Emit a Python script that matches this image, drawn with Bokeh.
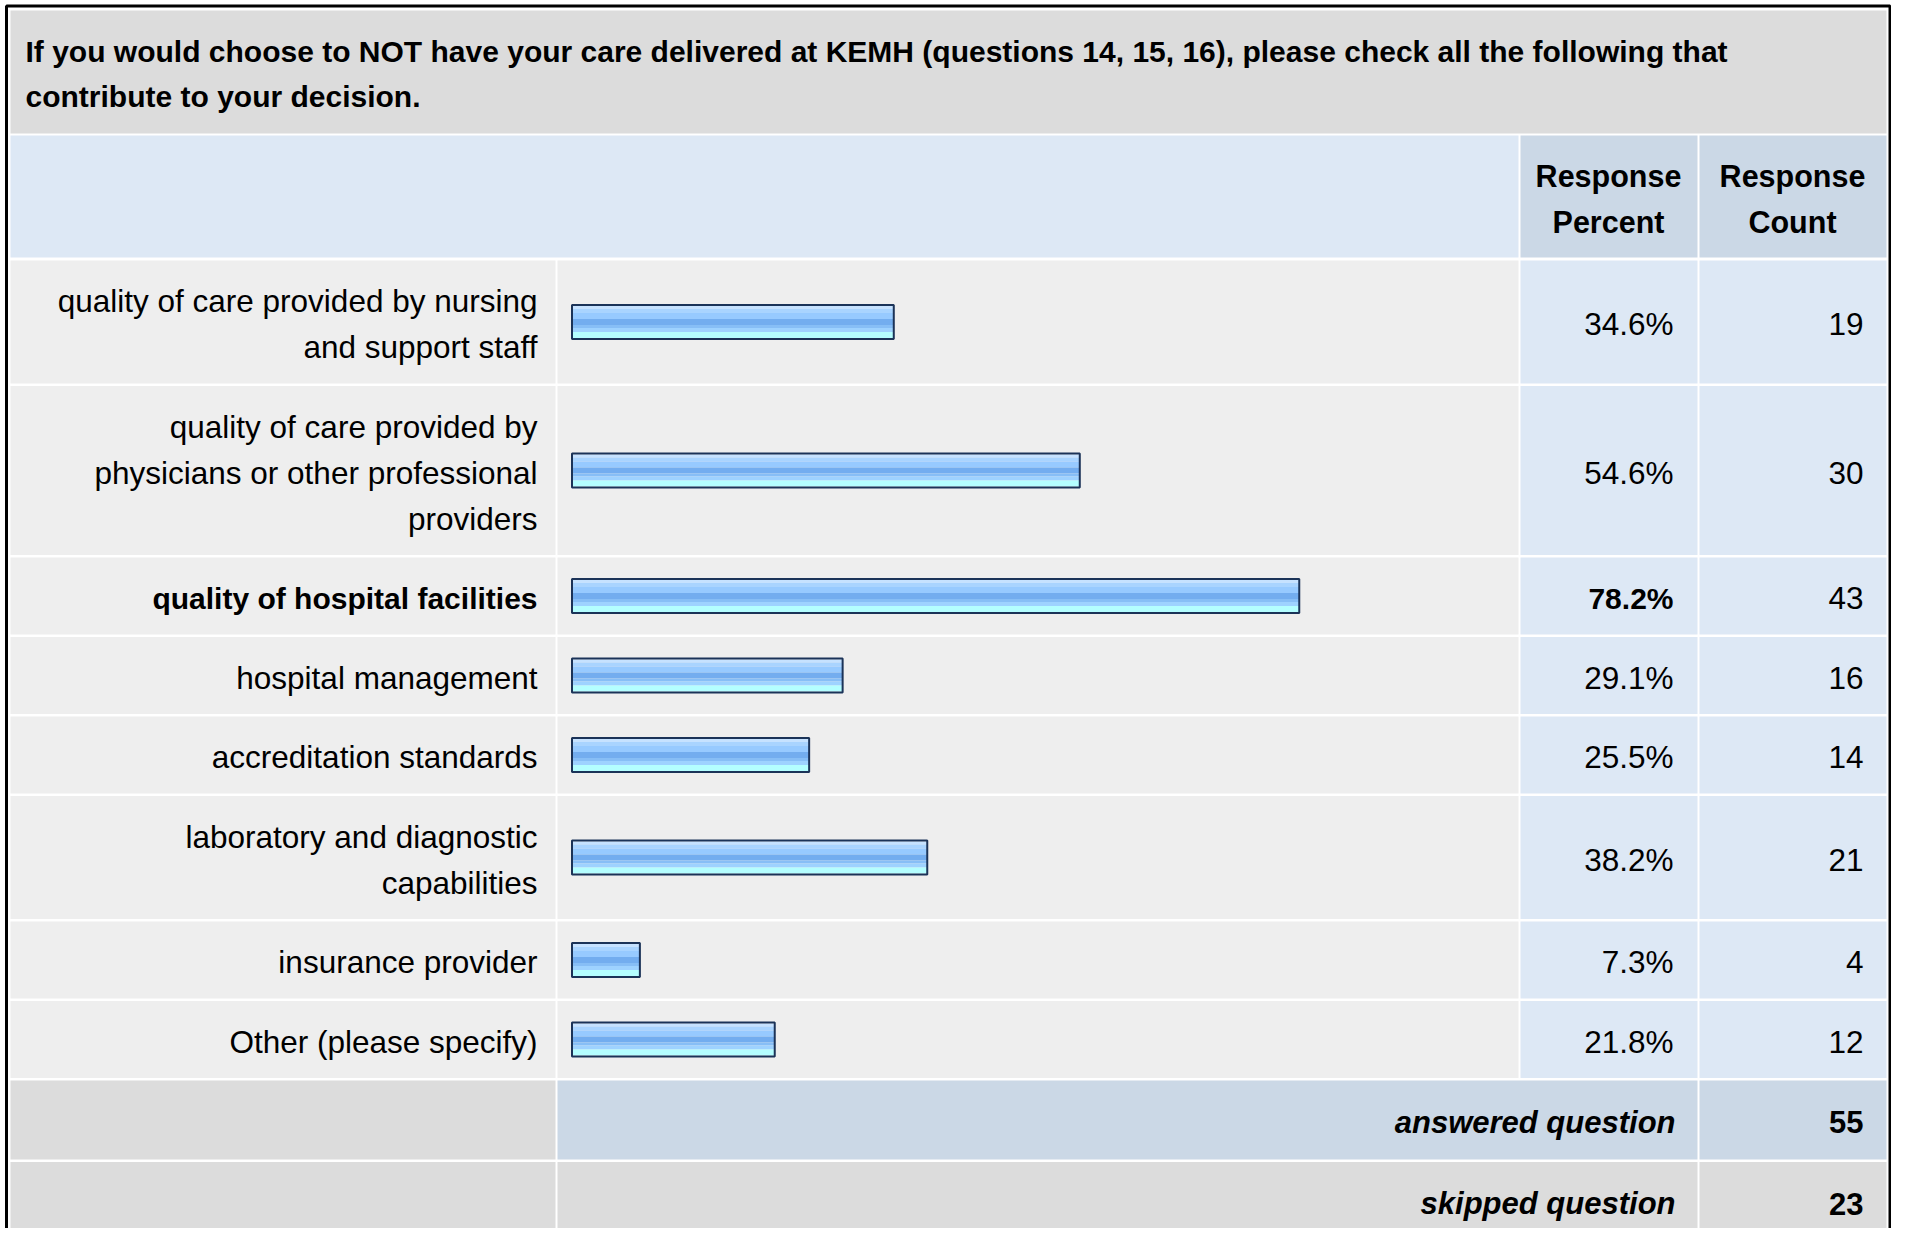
from bokeh.plotting import figure
from bokeh.models import Range1d, ColumnDataSource
from bokeh.core.properties import value
from bokeh.embed import file_html
from bokeh.resources import INLINE

# ---------------- data ----------------
title_lines = [
    "If you would choose to NOT have your care delivered at KEMH (questions 14, 15, 16), please check all the following that",
    "contribute to your decision.",
]
header_percent = ["Response", "Percent"]
header_count = ["Response", "Count"]
categories = [
    "quality of care provided by nursing\nand support staff",
    "quality of care provided by\nphysicians or other professional\nproviders",
    "quality of hospital facilities",
    "hospital management",
    "accreditation standards",
    "laboratory and diagnostic\ncapabilities",
    "insurance provider",
    "Other (please specify)",
]
percents = [34.6, 54.6, 78.2, 29.1, 25.5, 38.2, 7.3, 21.8]
counts = [19, 30, 43, 16, 14, 21, 4, 12]
summary_labels = ["answered question", "skipped question"]
summary_values = [55, 23]

# ---------------- layout (pixel coordinates) ----------------
W, H = 1891, 1228
FONT = value("Liberation Sans")
FS_REG = value("31.5px")
FS_BOLD = value("30px")
FS_HEAD = value("30.5px")
FS_SUM = value("31px")
LINE = 46

X_L0, X_L1 = 10, 555          # label column
X_B0, X_B1 = 557, 1518        # bar column
X_P0, X_P1 = 1520, 1697       # percent column
X_C0, X_C1 = 1699, 1886       # count column
BAR_X0 = 571.5
PX_PER_PCT = 9.3

p = figure(width=W, height=H, output_backend="svg", toolbar_location=None,
           x_range=Range1d(0, W), y_range=Range1d(H, 0),
           min_border=0, x_axis_location=None, y_axis_location=None,
           background_fill_color="white", border_fill_color="white")
p.outline_line_color = None
p.xgrid.visible = False
p.ygrid.visible = False
p.extra_x_ranges = {"pct": Range1d(start=(0 - BAR_X0) / PX_PER_PCT,
                                   end=(W - BAR_X0) / PX_PER_PCT)}

cells = dict(left=[], right=[], top=[], bottom=[], color=[])


def cell(x0, x1, y0, y1, c):
    cells["left"].append(x0)
    cells["right"].append(x1)
    cells["top"].append(y0)
    cells["bottom"].append(y1)
    cells["color"].append(c)


GRAY = "#dcdcdc"
LIGHT = "#eeeeee"
BLUE = "#dde8f5"
BLUE2 = "#cbd8e6"

# title and header
cell(X_L0, X_C1, 10, 133, GRAY)
cell(X_L0, X_B1, 135, 257, BLUE)
cell(X_P0, X_P1, 135, 257, BLUE2)
cell(X_C0, X_C1, 135, 257, BLUE2)

# rows
nlines = [len(c.split("\n")) for c in categories]
tops, bots = [], []
y = 260.0
for n in nlines:
    h = 31 + LINE * n
    tops.append(y)
    bots.append(y + h)
    y += h + 2.5
for t, b in zip(tops, bots):
    cell(X_L0, X_L1, t, b, LIGHT)
    cell(X_B0, X_B1, t, b, LIGHT)
    cell(X_P0, X_P1, t, b, BLUE)
    cell(X_C0, X_C1, t, b, BLUE)
centers = [(t + b) / 2 for t, b in zip(tops, bots)]

s_tops, s_bots = [], []
for i in range(len(summary_labels)):
    s_tops.append(y)
    s_bots.append(y + 79)
    y += 79 + 2.5
cell(X_L0, X_L1, s_tops[0], s_bots[0], GRAY)
cell(X_B0, X_P1, s_tops[0], s_bots[0], BLUE2)
cell(X_C0, X_C1, s_tops[0], s_bots[0], BLUE2)
cell(X_L0, X_L1, s_tops[1], s_bots[1] + 30, GRAY)
cell(X_B0, X_P1, s_tops[1], s_bots[1] + 30, GRAY)
cell(X_C0, X_C1, s_tops[1], s_bots[1] + 30, GRAY)

p.quad(left="left", right="right", top="top", bottom="bottom", fill_color="color",
       line_color=None, source=ColumnDataSource(cells))

# outer frame
p.quad(left=[6], right=[1889.5], top=[5.5], bottom=[1300], fill_color=None,
       line_color="black", line_width=3)

# bars: striped gradient + border
stripes = [(0, 3, "#c6e2ff"), (3, 7, "#a9d4ff"), (7, 13, "#97caff"),
           (13, 19, "#73adef"), (19, 22, "#87bef6"), (22, 26, "#9ed2ff"),
           (26, 32, "#b4feff")]
for a, b, col in stripes:
    p.hbar(y=[c + (a + b) / 2 - 16 for c in centers], height=b - a, left=0,
           right=percents, fill_color=col, line_color=None, x_range_name="pct")
p.hbar(y=centers, height=34, left=0, right=percents, fill_color=None,
       line_color="#1b3358", line_width=2, x_range_name="pct")

TOFF = 2
# title
p.text(x=[25, 25], y=[51, 96], text=title_lines, text_font=FONT, text_font_size=FS_BOLD,
       text_font_style="bold", text_align="left", text_baseline="middle", text_color="black")
# headers
for cx, lines in ((1608, header_percent), (1792, header_count)):
    p.text(x=[cx, cx], y=[196 - 23 + TOFF, 196 + 23 + TOFF], text=lines, text_font=FONT,
           text_font_size=FS_HEAD, text_font_style="bold", text_align="center",
           text_baseline="middle", text_color="black")

imax = percents.index(max(percents))
lx, ly, lt, lsz, lst = [], [], [], [], []
for i, (c, lab) in enumerate(zip(centers, categories)):
    parts = lab.split("\n")
    n = len(parts)
    for j, part in enumerate(parts):
        lx.append(537)
        ly.append(c + (j - (n - 1) / 2) * LINE + TOFF)
        lt.append(part)
        lst.append("bold" if i == imax else "normal")
        lsz.append("30px" if i == imax else "31.5px")
p.text(x=lx, y=ly, text=lt, text_font=FONT, text_font_size=lsz, text_font_style=lst,
       text_align="right", text_baseline="middle", text_color="black")

pct_text = ["%.1f%%" % v for v in percents]
pct_style = ["bold" if i == imax else "normal" for i in range(len(percents))]
pct_size = ["30px" if i == imax else "31.5px" for i in range(len(percents))]
p.text(x=[1673] * len(percents), y=[c + TOFF for c in centers], text=pct_text,
       text_font=FONT, text_font_size=pct_size, text_font_style=pct_style,
       text_align="right", text_baseline="middle", text_color="black")
p.text(x=[1863] * len(counts), y=[c + TOFF for c in centers], text=[str(v) for v in counts],
       text_font=FONT, text_font_size=FS_REG, text_align="right", text_baseline="middle",
       text_color="black")

s_centers = [(t + b) / 2 + TOFF for t, b in zip(s_tops, s_bots)]
p.text(x=[1675] * 2, y=s_centers, text=summary_labels, text_font=FONT, text_font_size=FS_SUM,
       text_font_style="bold italic", text_align="right", text_baseline="middle",
       text_color="black")
p.text(x=[1863] * 2, y=s_centers, text=[str(v) for v in summary_values], text_font=FONT,
       text_font_size=FS_SUM, text_font_style="bold", text_align="right",
       text_baseline="middle", text_color="black")

open("out.html", "w").write(file_html(p, INLINE))
